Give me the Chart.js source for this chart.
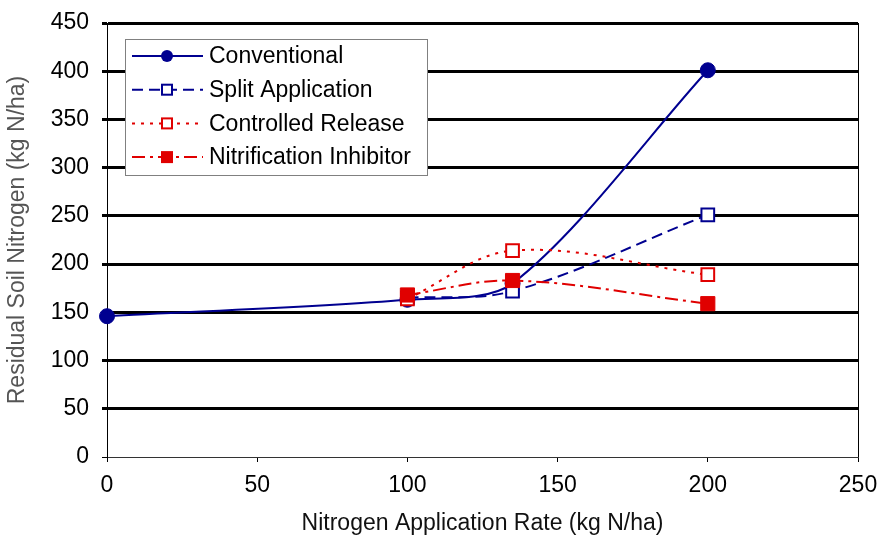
<!DOCTYPE html>
<html><head><meta charset="utf-8">
<script src="https://cdn.jsdelivr.net/npm/chart.js@4.4.0/dist/chart.umd.min.js"></script>
<style>html,body{margin:0;padding:0;background:#fff}</style>
</head><body>
<canvas id="c" width="880" height="540"></canvas>
<script>
const rates = [0, 100, 135, 200];
const conventional = [146, 163, 180, 401];
const splitApplication = [null, 165, 172, 251];
const controlledRelease = [null, 164, 214, 189];
const nitrificationInhibitor = [null, 168, 183, 159];
const seriesNames = ['Conventional', 'Split Application', 'Controlled Release', 'Nitrification Inhibitor'];
const xTicks = [0, 50, 100, 150, 200, 250];
const yTicks = [0, 50, 100, 150, 200, 250, 300, 350, 400, 450];
const xTitle = 'Nitrogen Application Rate (kg N/ha)';
const yTitle = 'Residual Soil Nitrogen (kg N/ha)';

const FONT = '"Liberation Sans", Arial, sans-serif';
const BLUE = '#000090';
const RED = '#e00000';

function pts(vals) {
  return rates.map((r, i) => ({x: r, y: vals[i]})).filter(p => p.y !== null);
}

const datasets = [
  {label: seriesNames[0], data: pts(conventional), borderColor: BLUE, backgroundColor: BLUE,
   borderWidth: 2, borderDash: [], pointStyle: 'circle', pointRadius: 7.5, pointBackgroundColor: BLUE,
   pointBorderColor: BLUE, pointBorderWidth: 1, order: 3, tension: 0.3},
  {label: seriesNames[1], data: pts(splitApplication), borderColor: BLUE, backgroundColor: BLUE,
   borderWidth: 2, borderDash: [11, 6], pointStyle: 'rect', pointRadius: 9, pointBackgroundColor: '#fff',
   pointBorderColor: BLUE, pointBorderWidth: 2, order: 2, tension: 0.35},
  {label: seriesNames[2], data: pts(controlledRelease), borderColor: RED, backgroundColor: RED,
   borderWidth: 2, borderDash: [3, 6], pointStyle: 'rect', pointRadius: 9, pointBackgroundColor: '#fff',
   pointBorderColor: RED, pointBorderWidth: 2, order: 1, tension: 0.35},
  {label: seriesNames[3], data: pts(nitrificationInhibitor), borderColor: RED, backgroundColor: RED,
   borderWidth: 2, borderDash: [13, 5, 3, 5], pointStyle: 'rect', pointRadius: 10, pointBackgroundColor: RED,
   pointBorderColor: RED, pointBorderWidth: 1, order: 0, tension: 0.35}
];
datasets.forEach(d => { d.showLine = true; d.fill = false; d.clip = false; });

const boxLegend = {
  id: 'boxLegend',
  afterDraw(chart) {
    const ctx = chart.ctx;
    ctx.save();
    ctx.fillStyle = '#fff';
    ctx.fillRect(125, 39, 302, 136);
    ctx.strokeStyle = '#808080';
    ctx.lineWidth = 1;
    ctx.strokeRect(125.5, 39.5, 302, 136);
    chart.data.datasets.forEach((ds, i) => {
      const y = 56 + i * 33.7;
      ctx.setLineDash(ds.borderDash || []);
      ctx.strokeStyle = ds.borderColor;
      ctx.lineWidth = ds.borderWidth;
      ctx.beginPath(); ctx.moveTo(132, y); ctx.lineTo(203, y); ctx.stroke();
      ctx.setLineDash([]);
      const mx = 167;
      if (ds.pointStyle === 'circle') {
        ctx.fillStyle = ds.pointBackgroundColor;
        ctx.beginPath(); ctx.arc(mx, y, 6, 0, Math.PI * 2); ctx.fill();
      } else if (ds.pointBackgroundColor === '#fff') {
        ctx.fillStyle = '#fff';
        ctx.fillRect(mx - 5, y - 5, 10, 10);
        ctx.strokeStyle = ds.pointBorderColor; ctx.lineWidth = 2;
        ctx.strokeRect(mx - 5, y - 5, 10, 10);
      } else {
        ctx.fillStyle = ds.pointBackgroundColor;
        ctx.fillRect(mx - 6, y - 6, 12, 12);
      }
      ctx.fillStyle = '#000';
      ctx.font = '23px ' + FONT;
      ctx.textBaseline = 'middle';
      ctx.textAlign = 'left';
      ctx.fillText(ds.label, 209, y + 1);
    });
    ctx.restore();
  }
};

new Chart(document.getElementById('c'), {
  type: 'scatter',
  data: {datasets},
  plugins: [boxLegend],
  options: {
    responsive: false,
    animation: false,
    devicePixelRatio: 1,
    layout: {padding: {top: 23, right: 22, left: 0, bottom: 0}},
    plugins: {legend: {display: false}, tooltip: {enabled: false}},
    scales: {
      x: {
        type: 'linear', min: 0, max: 250,
        afterBuildTicks: s => { s.ticks = xTicks.map(v => ({value: v})); },
        afterFit: s => { s.height = 83; s.paddingLeft = 0; s.paddingRight = 0; },
        ticks: {font: {family: FONT, size: 23}, color: '#000', padding: 10},
        grid: {
          color: c => (c.tick && c.tick.value === 250) ? '#000' : 'rgba(0,0,0,0)',
          tickColor: '#000', lineWidth: 1, tickLength: 5
        },
        border: {color: '#333', width: 1},
        title: {display: true, text: xTitle, font: {family: FONT, size: 23}, color: '#111', padding: {top: 0, bottom: 3}}
      },
      y: {
        type: 'linear', min: 0, max: 450,
        afterBuildTicks: s => { s.ticks = yTicks.map(v => ({value: v})); },
        afterFit: s => { s.width = 107; s.paddingTop = 0; s.paddingBottom = 0; },
        ticks: {font: {family: FONT, size: 23}, color: '#000', padding: 13},
        grid: {
          color: '#000',
          tickColor: '#000',
          lineWidth: c => (c.tick && c.tick.value === 0) ? 1 : 3,
          tickLength: 5
        },
        border: {color: '#000', width: 1},
        title: {display: true, text: yTitle, font: {family: FONT, size: 23}, color: '#555', padding: {top: 4, bottom: 0}}
      }
    }
  }
});
</script>
</body></html>
